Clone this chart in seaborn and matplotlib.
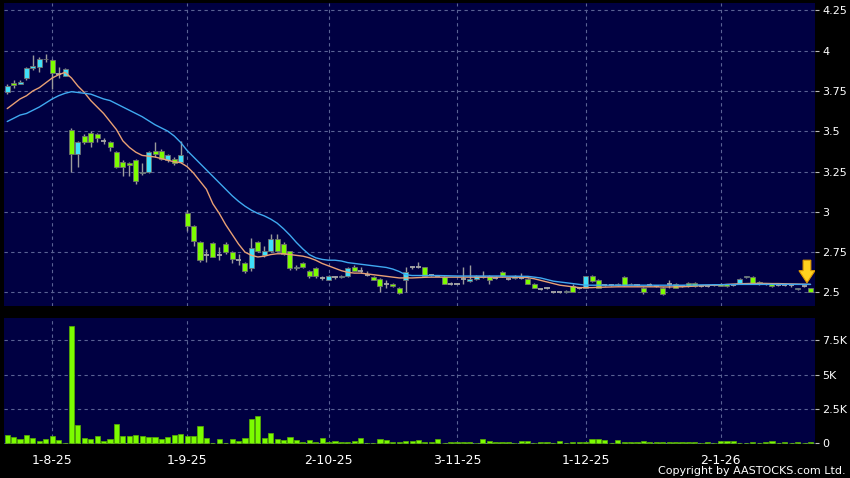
import numpy as np
import pandas as pd
import matplotlib
matplotlib.use("Agg")
import matplotlib.pyplot as plt
import seaborn as sns
from matplotlib.patches import Polygon

# ---------------- data ----------------
opens = [3.74, 3.80, 3.795, 3.83, 3.89, 3.90, 3.95, 3.94, 3.855, 3.84,
         3.51, 3.36, 3.47, 3.49, 3.48, 3.44, 3.43, 3.37, 3.31, 3.30,
         3.32, 3.24, 3.25, 3.38, 3.38, 3.32, 3.33, 3.31, 2.99, 2.915,
         2.81, 2.735, 2.805, 2.735, 2.80, 2.75, 2.70, 2.68, 2.65, 2.81,
         2.73, 2.76, 2.83, 2.80, 2.755, 2.65, 2.685, 2.635, 2.65, 2.59,
         2.58, 2.595, 2.595, 2.60, 2.66, 2.63, 2.61, 2.595, 2.585, 2.555,
         2.555, 2.53, 2.58, 2.655, 2.655, 2.655, 2.61, 2.605, 2.595, 2.555,
         2.555, 2.585, 2.57, 2.585, 2.595, 2.605, 2.59, 2.625, 2.585, 2.59,
         2.59, 2.585, 2.555, 2.52, 2.53, 2.50, 2.50, 2.50, 2.54, 2.525,
         2.53, 2.605, 2.58, 2.545, 2.545, 2.545, 2.595, 2.555, 2.545, 2.53,
         2.545, 2.54, 2.53, 2.555, 2.555, 2.54, 2.56, 2.56, 2.54, 2.54,
         2.545, 2.555, 2.55, 2.545, 2.555, 2.595, 2.595, 2.565, 2.55, 2.55,
         2.545, 2.545, 2.545, 2.52, 2.54, 2.525]
highs = [3.79, 3.82, 3.82, 3.90, 3.97, 3.96, 3.98, 3.95, 3.90, 3.89,
         3.52, 3.44, 3.48, 3.50, 3.49, 3.46, 3.44, 3.38, 3.32, 3.31,
         3.33, 3.30, 3.38, 3.43, 3.39, 3.36, 3.34, 3.44, 3.01, 2.92,
         2.82, 2.77, 2.81, 2.78, 2.81, 2.76, 2.74, 2.69, 2.84, 2.82,
         2.79, 2.865, 2.865, 2.81, 2.76, 2.67, 2.69, 2.64, 2.66, 2.60,
         2.61, 2.60, 2.61, 2.66, 2.67, 2.66, 2.63, 2.60, 2.59, 2.575,
         2.56, 2.535, 2.66, 2.665, 2.69, 2.66, 2.615, 2.61, 2.60, 2.565,
         2.56, 2.66, 2.67, 2.61, 2.635, 2.61, 2.60, 2.63, 2.59, 2.61,
         2.62, 2.59, 2.56, 2.525, 2.535, 2.505, 2.505, 2.515, 2.55, 2.535,
         2.60, 2.61, 2.585, 2.555, 2.555, 2.56, 2.60, 2.56, 2.55, 2.535,
         2.56, 2.545, 2.535, 2.575, 2.56, 2.545, 2.565, 2.565, 2.545, 2.545,
         2.555, 2.56, 2.555, 2.55, 2.59, 2.60, 2.60, 2.57, 2.555, 2.555,
         2.55, 2.55, 2.55, 2.53, 2.545, 2.53]
lows = [3.73, 3.77, 3.79, 3.82, 3.88, 3.87, 3.93, 3.76, 3.83, 3.84,
        3.25, 3.28, 3.42, 3.40, 3.43, 3.42, 3.38, 3.27, 3.22, 3.22,
        3.17, 3.23, 3.24, 3.34, 3.32, 3.31, 3.29, 3.30, 2.88, 2.79,
        2.69, 2.69, 2.72, 2.70, 2.74, 2.68, 2.67, 2.62, 2.63, 2.75,
        2.72, 2.75, 2.75, 2.73, 2.64, 2.64, 2.65, 2.59, 2.59, 2.575,
        2.575, 2.585, 2.59, 2.595, 2.63, 2.62, 2.60, 2.575, 2.50, 2.53,
        2.535, 2.49, 2.50, 2.645, 2.65, 2.60, 2.60, 2.60, 2.55, 2.545,
        2.55, 2.555, 2.565, 2.58, 2.59, 2.55, 2.585, 2.595, 2.58, 2.585,
        2.585, 2.55, 2.525, 2.515, 2.52, 2.495, 2.495, 2.495, 2.50, 2.52,
        2.525, 2.565, 2.525, 2.54, 2.54, 2.54, 2.54, 2.545, 2.54, 2.49,
        2.54, 2.535, 2.485, 2.53, 2.525, 2.535, 2.535, 2.535, 2.535, 2.535,
        2.54, 2.54, 2.535, 2.54, 2.55, 2.59, 2.55, 2.545, 2.545, 2.535,
        2.54, 2.54, 2.535, 2.515, 2.535, 2.50]
closes = [3.78, 3.785, 3.805, 3.89, 3.905, 3.95, 3.945, 3.86, 3.855, 3.885,
          3.36, 3.43, 3.43, 3.43, 3.46, 3.44, 3.40, 3.28, 3.28, 3.29,
          3.19, 3.25, 3.37, 3.36, 3.33, 3.35, 3.30, 3.35, 2.915, 2.82,
          2.70, 2.735, 2.72, 2.735, 2.75, 2.71, 2.70, 2.63, 2.775, 2.76,
          2.755, 2.83, 2.76, 2.74, 2.65, 2.66, 2.66, 2.60, 2.60, 2.59,
          2.60, 2.595, 2.60, 2.65, 2.635, 2.63, 2.61, 2.58, 2.54, 2.555,
          2.54, 2.495, 2.625, 2.655, 2.655, 2.605, 2.61, 2.605, 2.555, 2.555,
          2.555, 2.585, 2.585, 2.605, 2.605, 2.575, 2.59, 2.60, 2.585, 2.605,
          2.59, 2.555, 2.53, 2.52, 2.53, 2.50, 2.50, 2.51, 2.505, 2.525,
          2.60, 2.57, 2.53, 2.545, 2.545, 2.555, 2.545, 2.55, 2.545, 2.50,
          2.545, 2.54, 2.49, 2.555, 2.53, 2.54, 2.54, 2.54, 2.54, 2.54,
          2.555, 2.54, 2.54, 2.545, 2.585, 2.60, 2.555, 2.55, 2.55, 2.54,
          2.545, 2.545, 2.545, 2.525, 2.54, 2.505]
ma_short = [3.64, 3.67, 3.70, 3.72, 3.75, 3.77, 3.80, 3.83, 3.85, 3.865,
            3.83, 3.78, 3.74, 3.69, 3.65, 3.61, 3.56, 3.51, 3.44, 3.40,
            3.37, 3.35, 3.345, 3.34, 3.33, 3.32, 3.31, 3.305, 3.28, 3.24,
            3.19, 3.14, 3.05, 2.99, 2.92, 2.86, 2.80, 2.75, 2.73, 2.72,
            2.725, 2.735, 2.74, 2.74, 2.735, 2.73, 2.725, 2.715, 2.70, 2.68,
            2.665, 2.65, 2.635, 2.625, 2.62, 2.62, 2.615, 2.61, 2.605, 2.60,
            2.595, 2.59, 2.59, 2.59, 2.592, 2.594, 2.595, 2.595, 2.595, 2.595,
            2.595, 2.595, 2.595, 2.595, 2.595, 2.595, 2.595, 2.595, 2.595, 2.595,
            2.594, 2.592, 2.585, 2.575, 2.565, 2.555, 2.545, 2.54, 2.535, 2.53,
            2.53, 2.53, 2.532, 2.533, 2.534, 2.535, 2.535, 2.535, 2.535, 2.535,
            2.535, 2.535, 2.534, 2.534, 2.535, 2.535, 2.537, 2.54, 2.542, 2.544,
            2.545, 2.547, 2.55, 2.552, 2.554, 2.555, 2.556, 2.556, 2.556, 2.555,
            2.555, 2.554, 2.553, 2.552, 2.551, 2.55]
ma_long = [3.56, 3.58, 3.60, 3.61, 3.63, 3.65, 3.675, 3.70, 3.72, 3.735,
           3.745, 3.74, 3.735, 3.73, 3.715, 3.70, 3.69, 3.67, 3.65, 3.63,
           3.61, 3.59, 3.565, 3.54, 3.52, 3.50, 3.47, 3.43, 3.38, 3.34,
           3.30, 3.26, 3.22, 3.18, 3.14, 3.10, 3.065, 3.035, 3.01, 2.99,
           2.975, 2.955, 2.93, 2.895, 2.855, 2.81, 2.77, 2.735, 2.715, 2.705,
           2.70, 2.70, 2.695, 2.685, 2.68, 2.675, 2.67, 2.665, 2.66, 2.655,
           2.645, 2.63, 2.61, 2.605, 2.605, 2.605, 2.605, 2.605, 2.604, 2.603,
           2.602, 2.602, 2.602, 2.602, 2.602, 2.602, 2.602, 2.602, 2.601, 2.601,
           2.60, 2.60, 2.595, 2.59, 2.58, 2.57, 2.565, 2.56, 2.555, 2.55,
           2.545, 2.545, 2.545, 2.545, 2.545, 2.545, 2.545, 2.545, 2.545, 2.545,
           2.545, 2.545, 2.545, 2.545, 2.545, 2.545, 2.546, 2.546, 2.547, 2.547,
           2.548, 2.548, 2.549, 2.549, 2.55, 2.55, 2.55, 2.55, 2.55, 2.55,
           2.55, 2.55, 2.55, 2.55, 2.55, 2.55]
volume_k = [0.60, 0.45, 0.34, 0.63, 0.36, 0.19, 0.29, 0.50, 0.24, 0.05,
            8.53, 1.37, 0.41, 0.29, 0.50, 0.14, 0.31, 1.42, 0.53, 0.53,
            0.63, 0.53, 0.43, 0.43, 0.31, 0.48, 0.60, 0.67, 0.55, 0.50,
            1.23, 0.36, 0.05, 0.31, 0.05, 0.31, 0.14, 0.38, 1.75, 1.97,
            0.38, 0.72, 0.31, 0.26, 0.46, 0.26, 0.07, 0.26, 0.07, 0.38,
            0.10, 0.17, 0.10, 0.12, 0.19, 0.38, 0.05, 0.05, 0.31, 0.22,
            0.12, 0.10, 0.17, 0.17, 0.22, 0.12, 0.10, 0.31, 0.05, 0.10,
            0.10, 0.10, 0.10, 0.05, 0.29, 0.17, 0.12, 0.12, 0.12, 0.05,
            0.14, 0.14, 0.05, 0.10, 0.10, 0.05, 0.14, 0.05, 0.10, 0.10,
            0.10, 0.29, 0.31, 0.22, 0.02, 0.26, 0.07, 0.07, 0.07, 0.17,
            0.07, 0.07, 0.07, 0.07, 0.07, 0.12, 0.12, 0.12, 0.03, 0.07,
            0.03, 0.17, 0.17, 0.17, 0.05, 0.05, 0.07, 0.05, 0.07, 0.19,
            0.05, 0.10, 0.05, 0.10, 0.03, 0.10]
tick_idx = [7, 28, 50, 70, 90, 111]
tick_labels = ["1-8-25", "1-9-25", "2-10-25", "3-11-25", "1-12-25", "2-1-26"]
price_ticks = [2.5, 2.75, 3.0, 3.25, 3.5, 3.75, 4.0, 4.25]
price_tick_labels = ["2.5", "2.75", "3", "3.25", "3.5", "3.75", "4", "4.25"]
vol_ticks = [0, 2.5, 5, 7.5]
vol_tick_labels = ["0", "2.5K", "5K", "7.5K"]

# ---------------- styling ----------------
BG = "#000042"
FIG_BG = "#000000"
GREEN = "#7CFC00"
CYAN = "#3FE0FA"
DOJI = "#A8A8A8"
WICK = "#9A9A9A"
GRID = "#5A6294"
TXT = "#FFFFFF"

sns.set_theme(style="dark")
plt.rcParams["font.family"] = ["DejaVu Sans"]

n = len(closes)
idx = np.arange(n)
df = pd.DataFrame({"idx": idx, "open": opens, "high": highs, "low": lows,
                   "close": closes, "ma_s": ma_short, "ma_l": ma_long,
                   "vol": volume_k})

fig = plt.figure(figsize=(8.5, 4.78), dpi=100, facecolor=FIG_BG)
ax = fig.add_axes([4 / 850, 1 - 306 / 478, 811 / 850, 303 / 478])
axv = fig.add_axes([4 / 850, 1 - 444 / 478, 811 / 850, 126 / 478])

for a in (ax, axv):
    a.set_facecolor(BG)
    for s in a.spines.values():
        s.set_visible(False)
    a.grid(True, color=GRID, linestyle=(0, (3, 3)), linewidth=0.8)
    a.set_axisbelow(True)
    a.yaxis.tick_right()
    a.tick_params(axis="y", colors="#BBBBBB", labelcolor=TXT, direction="out",
                  length=3, width=0.8, labelsize=8, pad=2)
    a.set_xlim(-0.5, 125.7)
    a.set_xticks(tick_idx)

# ---- candles ----
ax.vlines(df["idx"], df["low"], df["high"], color=WICK, linewidth=1.0, zorder=2)
body_bottom = np.minimum(df["open"], df["close"])
body_h = np.abs(df["close"] - df["open"])
colors = np.where(df["close"] > df["open"], CYAN,
                  np.where(df["close"] < df["open"], GREEN, DOJI))
is_doji = body_h < 1e-9
ax.bar(df["idx"][~is_doji], body_h[~is_doji], bottom=body_bottom[~is_doji],
       width=0.78, color=colors[~is_doji], edgecolor="#707070", linewidth=0.6,
       zorder=3)
ax.hlines(df["close"][is_doji], df["idx"][is_doji] - 0.4, df["idx"][is_doji] + 0.4,
          color=DOJI, linewidth=1.3, zorder=3)

# ---- moving averages ----
sns.lineplot(data=df, x="idx", y="ma_s", ax=ax, color="#E8A074", linewidth=1.0,
             zorder=4)
sns.lineplot(data=df, x="idx", y="ma_l", ax=ax, color="#3FA9F0", linewidth=1.0,
             zorder=4)

ax.set_ylim(2.416, 4.295)
ax.set_yticks(price_ticks)
ax.set_yticklabels(price_tick_labels)
ax.tick_params(axis="x", length=0, labelbottom=False)
ax.set_xlabel("")
ax.set_ylabel("")

# ---- yellow marker arrow above the last candle ----
li = n - 1
tip = highs[li] + 0.03
x0 = li - 0.55
hw, sw = 1.25, 0.6
pts = [(x0 - sw, tip + 0.14), (x0 + sw, tip + 0.14), (x0 + sw, tip + 0.075),
       (x0 + hw, tip + 0.075), (x0, tip), (x0 - hw, tip + 0.075),
       (x0 - sw, tip + 0.075)]
ax.add_patch(Polygon(pts, closed=True, facecolor="#FFD21F",
                     edgecolor="#E09A00", linewidth=0.8, zorder=6))

# ---- volume ----
sns.barplot(data=df, x="idx", y="vol", ax=axv, native_scale=True, color=GREEN,
            saturation=1, width=0.8, edgecolor="#58B000", linewidth=0.5,
            zorder=3)
axv.set_xlim(-0.5, 125.7)
axv.set_ylim(-0.05, 9.13)
axv.set_yticks(vol_ticks)
axv.set_yticklabels(vol_tick_labels)
axv.set_xticks(tick_idx)
axv.set_xticklabels(tick_labels)
axv.tick_params(axis="x", colors="#BBBBBB", labelcolor=TXT, direction="out",
                length=3, width=0.8, labelsize=9, pad=4)
axv.set_xlabel("")
axv.set_ylabel("")

fig.text(846 / 850, 1 - 471 / 478, "Copyright by AASTOCKS.com Ltd.",
         color=TXT, fontsize=8, ha="right", va="center")

fig.savefig("out.png", dpi=100, facecolor=FIG_BG)
